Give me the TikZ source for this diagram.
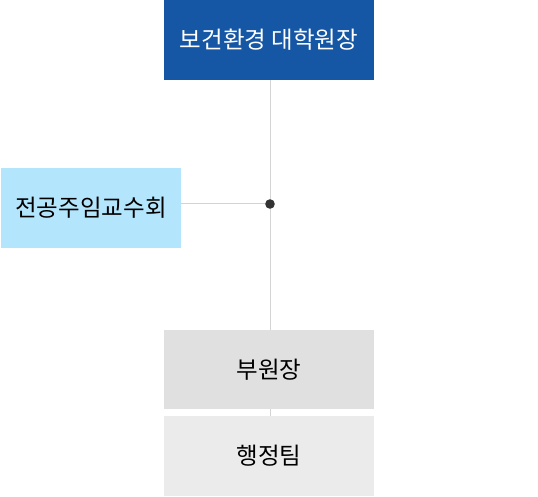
\documentclass[tikz,border=0pt]{standalone}
\usepackage{fontspec}
\setmainfont{Noto Sans CJK KR}
\definecolor{topblue}{HTML}{1557A5}
\definecolor{lblue}{HTML}{B3E5FC}
\definecolor{gbox}{HTML}{E0E0E0}
\definecolor{gbox2}{HTML}{EBEBEB}
\definecolor{lineg}{HTML}{D4D4D4}
\definecolor{dotc}{HTML}{333333}
\begin{document}
\begin{tikzpicture}[x=1pt,y=-1pt,
  boxst/.style={draw=none,inner sep=0pt,font=\fontsize{23.5}{28}\selectfont},
  conn/.style={draw=lineg,line width=1pt}]
\useasboundingbox (0,0) rectangle (538,497);
\node[boxst,fill=topblue,text=white,minimum width=210pt,minimum height=80pt] (top) at (269,40) {보건환경 대학원장};
\node[boxst,fill=lblue,text=black,minimum width=180pt,minimum height=80pt] (left) at (91,208) {전공주임교수회};
\node[boxst,fill=gbox,text=black,minimum width=210pt,minimum height=79pt] (vice) at (269,369.5) {부원장};
\node[boxst,fill=gbox2,text=black,minimum width=210pt,minimum height=80pt] (admin) at (269,456) {행정팀};
\coordinate (j) at (270,204);
\draw[conn] (top.south -| j) -- (vice.north -| j);
\draw[conn] (vice.south -| j) -- (admin.north -| j);
\draw[conn] (left.east |- j) -- (j);
\fill[dotc] (j) circle (4.8pt);
\end{tikzpicture}
\end{document}
